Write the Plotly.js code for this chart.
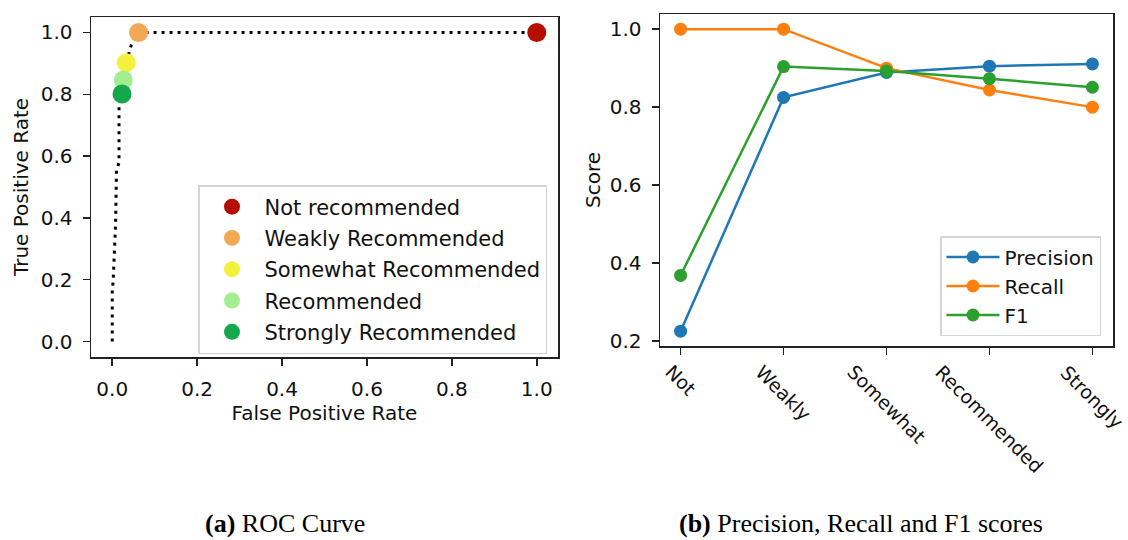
<!DOCTYPE html>
<html><head><meta charset="utf-8">
<script src="https://cdn.plot.ly/plotly-3.0.1.min.js"></script>
<style>html,body{margin:0;padding:0;background:#fff}#chart{width:1128px;height:540px}</style>
</head><body><div id="chart"></div>
<script>
// ROC curve (dotted)
const rocFpr = [0.000, 0.000, 0.002, 0.008, 0.010, 0.016, 0.016, 0.023, 0.026, 0.033, 0.045, 0.062, 1.000];
const rocTpr = [0.000, 0.170, 0.190, 0.385, 0.556, 0.578, 0.760, 0.801, 0.846, 0.902, 0.960, 1.000, 1.000];
// per-class operating points
const classNames = ['Not recommended', 'Weakly Recommended', 'Somewhat Recommended', 'Recommended', 'Strongly Recommended'];
const classFpr = [1.000, 0.062, 0.033, 0.026, 0.023];
const classTpr = [1.000, 1.000, 0.902, 0.846, 0.801];
const classColors = ['#b30e00', '#f2a955', '#f2f23d', '#a2ee8e', '#13a84c'];
// scores
const categories = ['Not', 'Weakly', 'Somewhat', 'Recommended', 'Strongly'];
const precision = [0.225, 0.825, 0.889, 0.905, 0.911];
const recall = [1.000, 1.000, 0.900, 0.844, 0.800];
const f1 = [0.368, 0.904, 0.893, 0.873, 0.851];
const ticks01 = [0, 0.2, 0.4, 0.6, 0.8, 1.0];
const ticksScore = [0.2, 0.4, 0.6, 0.8, 1.0];

const W = 1128, H = 540;
const FONT = 'DejaVu Sans';
const TXT = '#111';

const traces = [];
traces.push({x: rocFpr, y: rocTpr, xaxis: 'x', yaxis: 'y', mode: 'lines', showlegend: false,
  line: {color: '#000', width: 3, dash: '3px,5px'}, hoverinfo: 'skip'});
classNames.forEach((n, i) => {
  traces.push({x: [classFpr[i]], y: [classTpr[i]], xaxis: 'x', yaxis: 'y', mode: 'markers', name: n,
    legend: 'legend', legendgroup: 'g' + i,
    marker: {color: classColors[i], size: 19, line: {width: 0}}});
});
const sc = [['Precision', precision, '#1f77b4'], ['Recall', recall, '#ff7f0e'], ['F1', f1, '#2ca02c']];
sc.forEach((s, i) => {
  traces.push({x: categories, y: s[1], xaxis: 'x2', yaxis: 'y2', mode: 'lines+markers', name: s[0],
    legend: 'legend2', legendgroup: 'h' + i,
    line: {color: s[2], width: 2.5}, marker: {color: s[2], size: 13}});
});

const axBase = {showline: true, mirror: true, linecolor: '#222', linewidth: 1.5, ticks: 'outside',
  ticklen: 7, tickwidth: 1.5, tickcolor: '#222', showgrid: false, zeroline: false,
  tickfont: {family: FONT, size: 20, color: TXT}, ticklabelstandoff: 6};

const layout = {
  width: W, height: H, margin: {l: 0, r: 0, t: 0, b: 0},
  paper_bgcolor: '#fff', plot_bgcolor: '#fff',
  xaxis: Object.assign({}, axBase, {domain: [91 / W, 558 / W], range: [-0.05, 1.05], tickvals: ticks01, tickformat: '.1f',
    title: {text: 'False Positive Rate', font: {family: FONT, size: 20, color: TXT}, standoff: 5}, anchor: 'y'}),
  yaxis: Object.assign({}, axBase, {domain: [1 - 357 / H, 1 - 17 / H], range: [-0.05, 1.05], tickvals: ticks01, tickformat: '.1f',
    title: {text: 'True Positive Rate', font: {family: FONT, size: 20, color: TXT}, standoff: 6}, anchor: 'x'}),
  xaxis2: Object.assign({}, axBase, {domain: [660 / W, 1113 / W], type: 'category', range: [-0.2, 4.2],
    categoryorder: 'array', categoryarray: categories, showticklabels: false, anchor: 'y2'}),
  yaxis2: Object.assign({}, axBase, {domain: [1 - 346 / H, 1 - 14 / H], range: [0.187, 1.039], tickvals: ticksScore, tickformat: '.1f',
    title: {text: 'Score', font: {family: FONT, size: 20, color: TXT}, standoff: 3}, anchor: 'x2'}),
  legend: {x: 198 / W, y: 1 - 185 / H, xanchor: 'left', yanchor: 'top', bgcolor: 'rgba(255,255,255,0.85)',
    bordercolor: '#d5d5d5', borderwidth: 1.5, font: {family: FONT, size: 21, color: TXT}, tracegroupgap: 1,
    itemwidth: 55, traceorder: 'grouped'},
  legend2: {x: 940 / W, y: 1 - 236 / H, xanchor: 'left', yanchor: 'top', bgcolor: 'rgba(255,255,255,0.85)',
    bordercolor: '#d5d5d5', borderwidth: 1.5, font: {family: FONT, size: 20, color: TXT}, tracegroupgap: 0,
    itemwidth: 53, traceorder: 'grouped'},
  annotations: []
};
categories.forEach((c, i) => {
  layout.annotations.push({xref: 'x2', yref: 'y2 domain', x: i, y: 0, xanchor: 'center', yanchor: 'top', yshift: -12,
    text: c, textangle: 45, showarrow: false, font: {family: FONT, size: 19, color: TXT}});
});
layout.annotations.push({xref: 'paper', yref: 'paper', x: 285 / W, y: 1 - 523 / H, xanchor: 'center', yanchor: 'middle',
  text: '<b>(a)</b> ROC Curve', showarrow: false, font: {family: 'Liberation Serif', size: 26, color: '#000'}});
layout.annotations.push({xref: 'paper', yref: 'paper', x: 861 / W, y: 1 - 523 / H, xanchor: 'center', yanchor: 'middle',
  text: '<b>(b)</b> Precision, Recall and F1 scores', showarrow: false, font: {family: 'Liberation Serif', size: 26, color: '#000'}});

Plotly.newPlot('chart', traces, layout, {staticPlot: true, displayModeBar: false});
</script></body></html>
